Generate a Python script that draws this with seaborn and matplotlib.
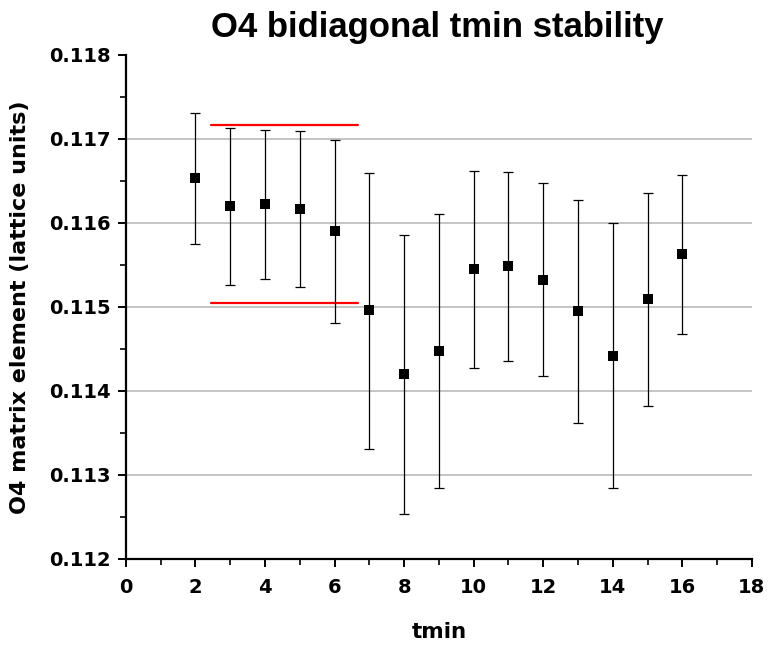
import numpy as np
import pandas as pd
import matplotlib
matplotlib.use("Agg")
import matplotlib.pyplot as plt
import seaborn as sns

# tmin scan of the O4 bidiagonal matrix element
tmin = [2, 3, 4, 5, 6, 7, 8, 9, 10, 11, 12, 13, 14, 15, 16]
value = [0.116532, 0.116202, 0.116222, 0.116163, 0.115905, 0.114964, 0.114199,
         0.114480, 0.115449, 0.115484, 0.115325, 0.114952, 0.114421, 0.115092,
         0.115627]
upper = [0.117306, 0.117127, 0.117111, 0.117092, 0.116988, 0.116599, 0.115861,
         0.116107, 0.116619, 0.116607, 0.116472, 0.116274, 0.115996, 0.116361,
         0.116575]
lower = [0.115754, 0.115258, 0.115330, 0.115235, 0.114810, 0.113310, 0.112532,
         0.112849, 0.114270, 0.114361, 0.114175, 0.113623, 0.112842, 0.113821,
         0.114682]

# chosen fit band
band_x = [2.44, 6.66]
band_y = [0.117163, 0.115048]

df = pd.DataFrame({"tmin": tmin, "value": value, "upper": upper, "lower": lower})

sns.set_theme(style="white")
plt.rcParams["font.family"] = ["DejaVu Sans"]
plt.rcParams["font.weight"] = "bold"
for key in ["text.color", "axes.labelcolor", "xtick.color", "ytick.color"]:
    plt.rcParams[key] = "black"

fig = plt.figure(figsize=(7.68, 6.46), dpi=100)
ax = fig.add_axes([0.164, 0.1347, 0.815, 0.7802])

ax.errorbar(df["tmin"], df["value"],
            yerr=[df["value"] - df["lower"], df["upper"] - df["value"]],
            fmt="none", ecolor="black", elinewidth=0.9, capsize=3.7,
            capthick=0.9, zorder=3)
sns.scatterplot(data=df, x="tmin", y="value", marker="s", s=62,
                color="black", edgecolor="black", linewidth=0, ax=ax, zorder=4)

for yb in band_y:
    ax.plot(band_x, [yb, yb], color="#ff0000", lw=1.6, zorder=2)

ax.set_xlim(0, 18)
ax.set_ylim(0.112, 0.118)
ax.set_xticks(np.arange(0, 19, 2))
ax.set_xticks(np.arange(1, 18, 2), minor=True)
ax.set_yticks(np.arange(0.112, 0.11801, 0.001))
ax.set_yticks(np.arange(0.1125, 0.118, 0.001), minor=True)
ax.set_yticklabels([f"{v:.3f}" for v in np.arange(0.112, 0.11801, 0.001)])

for yg in np.arange(0.113, 0.11751, 0.001):
    ax.axhline(yg, color="#b4b4b4", lw=1.1, zorder=1)

for side in ["top", "right"]:
    ax.spines[side].set_visible(False)
for side in ["left", "bottom"]:
    ax.spines[side].set_color("black")
    ax.spines[side].set_linewidth(1.6)

ax.tick_params(axis="both", which="major", direction="out", length=6, width=1.4,
               color="black", labelsize=14, bottom=True, left=True)
ax.tick_params(axis="x", which="major", pad=8)
ax.tick_params(axis="y", which="major", pad=5)
ax.tick_params(axis="both", which="minor", direction="out", length=4, width=1.2,
               color="black", bottom=True, left=True)
for lab in ax.get_xticklabels() + ax.get_yticklabels():
    lab.set_fontweight("bold")

ax.set_xlabel("tmin", fontsize=15.5, fontweight="bold")
ax.set_ylabel("O4 matrix element (lattice units)", fontsize=16, fontweight="bold")
ax.xaxis.label.set_va("center")
ax.yaxis.label.set_va("center")
ax.xaxis.set_label_coords(0.5, (559 - 632) / 504)
ax.yaxis.set_label_coords((20 - 126) / 626, 0.5)

fig.text(0.569, 1 - 37 / 646, "O4 bidiagonal tmin stability", ha="center",
         va="baseline", fontsize=25, fontweight="bold",
         family=["Liberation Sans", "DejaVu Sans"])

fig.savefig("out.png", dpi=100)
